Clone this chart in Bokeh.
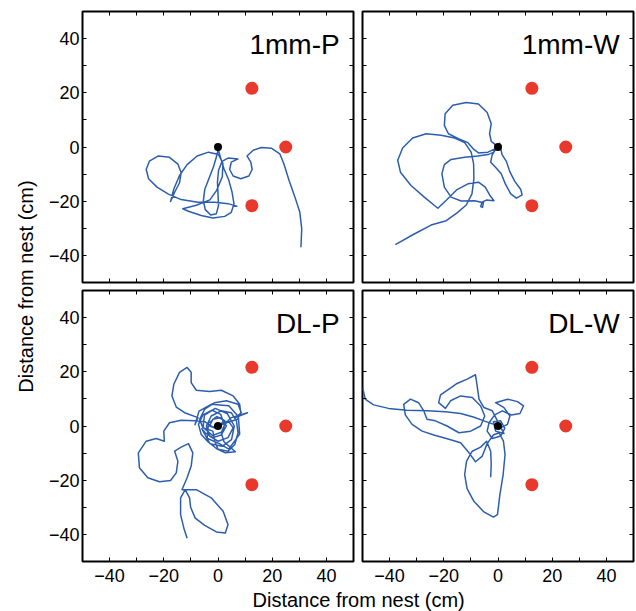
import math
from bokeh.plotting import figure
from bokeh.models import LinearAxis, FixedTicker, Label, Range1d
from bokeh.layouts import gridplot, row, column
from bokeh.embed import file_html
from bokeh.resources import INLINE
from bokeh.core.properties import value

# ---------------- data ----------------
tick_values = [-40, -20, 0, 20, 40]
tick_labels = ["\u221240", "\u221220", "0", "20", "40"]
minor_tick_values = [-30, -10, 10, 30]
axis_title = "Distance from nest (cm)"
panel_names = ["1mm-P", "1mm-W", "DL-P", "DL-W"]

feeder_x = [12.5, 25.0, 12.5]
feeder_y = [21.65, 0.0, -21.65]
nest_x = [0.0]
nest_y = [0.0]

p1_x = [7.2, 3.7, -1.2, -7.4, -13.6, -18.3, -22.5, -25.6, -26.5, -25.3, -22.0, -17.9, -14.8, -13.6, -14.2,
        -16.0, -17.5, -16.3, -14.2, -11.4, -7.7, -3.5, 0.2, 1.8, 1.6, -0.5, -3.0, -8.0, -13.0,
        -10.9, -6.2, -1.9, 2.5, 4.9, 5.9, 5.2, 4.0, 2.2, 1.0, 0.1, -0.6,
        -1.7, -3.3, -4.9, -5.4, -4.7, -2.7, -0.6, 0.2, 0.0, -0.2, 0.2, 1.5, 3.7, 7.4, 4.9,
        4.3, 5.6, 8.4, 11.4, 12.6, 12.1, 10.7, 13.0, 16.0, 19.8, 22.8, 24.3, 26.2, 28.4, 30.2, 30.9, 30.6]
p1_y = [-21.9, -20.9, -20.4, -20.4, -19.4, -17.4, -14.8, -11.7, -8.3, -5.2, -3.3, -3.8, -6.3, -9.5, -13.2,
        -16.7, -20.1, -15.5, -10.5, -6.5, -3.3, -1.9, -2.8, -6.0, -11.0, -16.0, -19.5, -21.5, -22.8,
        -23.7, -25.3, -26.2, -25.6, -24.1, -21.0, -16.7, -12.3, -8.0, -4.1, -0.9, -3.7,
        -7.4, -11.5, -15.7, -19.8, -23.1, -25.1, -24.6, -21.6, -17.3, -13.0, -8.6, -5.3, -4.1, -4.4, -5.6,
        -8.3, -10.7, -11.7, -10.7, -8.3, -5.6, -3.3, -1.2, -0.2, -0.5, -2.5, -6.2, -12.3, -18.5, -24.1, -30.2, -37.0]

p2_x = [-37.9, -30.9, -24.7, -19.1, -15.1, -11.7, -9.6, -8.9, -9.0, -9.9, -12.3, -16.0, -21.0, -26.5, -31.5,
        -35.2, -37.0, -36.0, -32.1, -27.2, -22.2, -18.8, -15.1, -11.1, -7.2, -4.7, -3.1, -1.5, -4.3, -5.9,
        -6.4, -5.7, -5.4, -8.6, -13.6, -17.3, -19.8, -20.7, -19.8, -17.3, -12.3, -7.4, -3.7, -1.5, -0.6,
        -1.0, -2.5, -3.1, -2.5, -4.0, -7.2, -11.7, -16.7, -19.5, -19.8, -18.3, -14.6, -11.1, -8.9, -7.2,
        -3.7, -0.9, -2.2, -2.7, -1.0, 1.2, 2.7, 4.7, 6.8, 8.9, 8.4, 6.2, 4.3, 3.1, 1.5, 0.5]
p2_y = [-36.0, -32.1, -28.8, -27.2, -24.3, -21.4, -17.3, -11.7, -6.2, -1.9, 1.6, 3.3, 4.3, 4.9, 3.3,
        -0.4, -4.9, -9.3, -14.2, -18.5, -22.6, -19.4, -15.7, -13.6, -13.0, -14.8, -17.7, -19.8, -19.6, -20.4,
        -22.0, -22.3, -20.6, -19.8, -19.9, -18.5, -14.8, -9.9, -6.5, -4.6, -3.8, -3.3, -2.8, -1.9, -0.4,
        0.9, 2.1, 4.9, 8.6, 12.7, 15.9, 16.4, 15.4, 12.3, 8.0, 4.9, 3.1, 1.6, -0.9, -2.2,
        -1.9, -0.6, -3.1, -5.6, -7.4, -9.9, -13.6, -17.3, -18.9, -17.7, -15.7, -12.7, -9.0, -5.3, -2.8, 1.6]

p3_x = [0.0, 3.7, 5.6, 3.7, 0.0, -3.1, -4.3, -2.5, 1.2, 4.9, 6.8, 7.4, 6.2, 3.7, 0.0,
        -1.2, -1.9, -5.6, -6.8, -4.9, -1.2, 3.1, 7.4, 8.6, 6.4, 10.9, 4.9, 2.5, 1.2, 2.2,
        4.7, 6.4, 2.7, -0.6, -3.7, -6.2, -7.2, -5.6, -2.2, 1.0, 1.9, -0.6, -3.1, -1.9, 1.2,
        3.1, 1.2, -1.9, -4.7,
        -6.0, -3.0, 1.5, 5.0, 6.0, 3.5, -1.0, -5.0, -5.5, -2.0, 2.0, 2.5, -0.5, -3.5, -4.0,
        0.5, 4.0, 8.0, 7.5, 4.0, -2.5, -7.0, -8.5,
        -7.4, -12.3, -15.4, -17.0, -16.3, -14.2, -11.4, -9.9, -9.9, -8.0, -3.1,
        1.2, 5.6, 8.0, 8.4, 7.2, 4.3, 1.2, -1.9, -4.9, -8.6, -13.6, -17.9, -20.0, -19.8, -22.8,
        -26.5, -29.4, -29.0, -25.9, -21.6, -17.5, -15.4, -14.8, -16.0, -13.6, -10.9, -9.3, -9.9, -11.4, -13.3,
        -8.0, -2.5, 1.9, 3.7, 2.7, -0.6, -4.9, -8.4, -10.1, -10.5, -12.1, -13.8, -13.8, -12.6, -11.4]
p3_y = [0.0, 1.9, -0.6, -4.3, -5.6, -3.7, 0.0, 3.7, 5.6, 4.9, 1.9, -2.5, -6.8, -9.3, -8.6,
        -5.6, -1.9, -0.6, 2.5, 6.2, 8.6, 9.3, 8.0, 4.9, 3.1, 4.9, 3.1, 0.6, -2.5, -5.8,
        -8.0, -9.5, -9.9, -8.3, -5.8, -3.1, 0.6, 4.1, 5.8, 4.3, 1.6, -0.9, 0.0, 2.5, 3.1,
        0.0, -3.3, -4.3, -2.5,
        -1.0, -6.5, -7.5, -5.0, 0.0, 4.5, 6.5, 4.0, -0.5, -3.5, -2.0, 2.0, 3.5, 1.0, -4.5,
        -6.5, -8.5, -3.0, 3.5, 7.5, 8.0, 5.5, 0.5,
        3.1, 4.9, 7.0, 11.1, 15.4, 19.8, 21.6, 19.8, 16.0, 13.2, 12.7,
        13.2, 11.1, 8.0, 4.9, 2.5, 1.6, 0.4, -0.4, 1.6, 1.9, 2.1, 1.2, -1.9, -5.6, -4.6,
        -5.6, -9.9, -15.4, -19.1, -20.6, -20.1, -17.3, -13.0, -9.3, -7.8, -6.5, -9.9, -14.8, -19.1, -23.5,
        -23.5, -26.5, -31.5, -36.4, -39.5, -39.1, -36.7, -34.0, -30.0, -26.5, -23.5, -26.5, -32.7, -37.7, -41.4]

p4_x = [-49.9, -49.0, -45.9, -40.4, -33.6, -26.2, -19.4, -13.8, -9.1, -5.2, -1.5, 1.0, 3.5, 4.4, 2.2,
        -0.9, 3.5, 7.2, 9.4, 8.1, 4.9, 1.6, -1.2, -3.3, -4.0, -2.1, 1.0, 2.5, 1.0, -1.7,
        -0.9, 2.2, -2.1, -5.2, -7.0, -7.7, -8.3, -11.4, -15.1, -18.1, -21.2, -21.9, -19.4, -17.5, -13.8,
        -9.5, -6.4, -4.9, -6.4, -10.1, -14.4, -18.8, -23.1, -26.2, -27.4, -29.3, -32.3, -34.8, -34.2, -31.7,
        -28.0, -23.7, -18.1, -13.8, -10.7, -8.3, -5.8, -4.0, -1.7, 0.4, 2.0, 2.6, 1.9, 0.7, -0.2,
        -1.7, -5.2, -8.9, -11.4, -12.3, -11.6, -9.5, -6.4, -4.2, -2.7, -2.5, -2.7]
p4_y = [14.0, 9.9, 7.8, 6.5, 5.8, 5.6, 5.3, 4.6, 3.3, 1.9, 0.6, -0.6, 0.6, 3.7, 6.8,
        8.6, 9.9, 9.0, 7.4, 4.6, 4.1, 5.6, 4.1, 1.2, -1.9, -4.6, -3.7, -0.9, 1.9, 1.6,
        -1.9, -2.8, 5.6, 6.8, 9.9, 14.8, 18.9, 17.3, 15.7, 13.6, 11.5, 8.6, 6.5, 9.3, 11.1,
        10.5, 7.4, 3.7, 0.0, -1.9, -2.5, 0.0, 1.9, 2.5, 5.6, 8.6, 9.9, 8.0, 4.1, 0.6,
        -1.9, -3.3, -4.9, -6.2, -9.9, -13.2, -11.1, -6.5, -3.3, -2.5, -5.6, -10.5, -17.9, -25.3, -32.7,
        -33.6, -31.7, -27.8, -23.1, -17.9, -13.0, -9.3, -7.8, -5.6, -9.3, -14.2, -18.9]

tracks = [(p1_x, p1_y), (p2_x, p2_y), (p3_x, p3_y), (p4_x, p4_y)]

# ---------------- style ----------------
FONT = "Liberation Sans"
BLUE = "#2D5EAE"
RED = "#E8392C"
FRAME = 271


def style_axis(ax, show_labels, standoff):
    ax.axis_line_color = None
    ax.major_tick_in = 4
    ax.major_tick_out = 0
    ax.minor_tick_in = 4
    ax.minor_tick_out = 0
    ax.major_tick_line_color = "black"
    ax.minor_tick_line_color = "black"
    if show_labels:
        ax.major_label_overrides = {v: t for v, t in zip(tick_values, tick_labels)}
        ax.major_label_text_font = FONT
        ax.major_label_text_font_size = "18px"
        ax.major_label_text_color = "black"
        ax.major_label_standoff = standoff
    else:
        ax.major_label_overrides = {v: "" for v in tick_values}
        ax.major_label_text_font_size = "0px"
        ax.major_label_standoff = 0


def make_panel(idx, show_x, show_y, mb):
    xs, ys = tracks[idx]
    p = figure(frame_width=FRAME, frame_height=FRAME,
               x_range=Range1d(-50, 50), y_range=Range1d(-50, 50),
               x_axis_type=None, y_axis_type=None,
               toolbar_location=None, output_backend="svg",
               min_border_left=mb[0], min_border_right=mb[1],
               min_border_top=mb[2], min_border_bottom=mb[3])
    p.outline_line_color = "black"
    p.outline_line_width = 2
    p.background_fill_color = "white"
    p.border_fill_color = "white"
    for loc, show, so in (("below", show_x, 7), ("left", show_y, 3), ("above", False, 0), ("right", False, 0)):
        ax = LinearAxis(ticker=FixedTicker(ticks=tick_values, minor_ticks=minor_tick_values))
        style_axis(ax, show, so)
        p.add_layout(ax, loc)
    p.line(xs, ys, line_color=BLUE, line_width=1.5, line_join="round")
    p.scatter(feeder_x, feeder_y, size=13, fill_color=RED, line_color=None)
    p.scatter(nest_x, nest_y, size=8, fill_color="black", line_color=None)
    p.add_layout(Label(x=44.9, y=37.7, text=panel_names[idx], text_align="right",
                       text_baseline="alphabetic", text_font=FONT, text_font_size="28px",
                       text_color="black"))
    return p


# page origin is the top-left corner of the picture
p1 = make_panel(0, False, True, (44, 4, 11, 4))
p2 = make_panel(1, False, False, (5, 2, 11, 4))
p3 = make_panel(2, True, True, (44, 4, 4, 27))
p4 = make_panel(3, True, False, (5, 2, 4, 27))

grid = gridplot([[p1, p2], [p3, p4]], toolbar_location=None)

TOP_H = 11 + FRAME + 4
BOT_H = 4 + FRAME + 27

# y title (spans both rows)
yfig = figure(width=38, height=TOP_H + BOT_H, x_range=Range1d(0, 1), y_range=Range1d(0, 1),
              x_axis_type=None, y_axis_type=None, toolbar_location=None,
              output_backend="svg", min_border=0)
yfig.outline_line_color = None
yfig.text(x=[0.66], y=[0.5136], text=[axis_title], angle=math.pi / 2,
          text_align="center", text_baseline="middle",
          text_font=value(FONT), text_font_size="20px", text_color="black")

# x title (spans both columns)
xfig = figure(width=38 + 319 + 278, height=23, x_range=Range1d(0, 1), y_range=Range1d(0, 1),
              x_axis_type=None, y_axis_type=None, toolbar_location=None,
              output_backend="svg", min_border=0)
xfig.outline_line_color = None
xfig.text(x=[0.564], y=[0.52], text=[axis_title],
          text_align="center", text_baseline="middle",
          text_font=value(FONT), text_font_size="20px", text_color="black")

layout = column(row(yfig, grid), xfig)

open("out.html", "w").write(file_html(layout, INLINE))
